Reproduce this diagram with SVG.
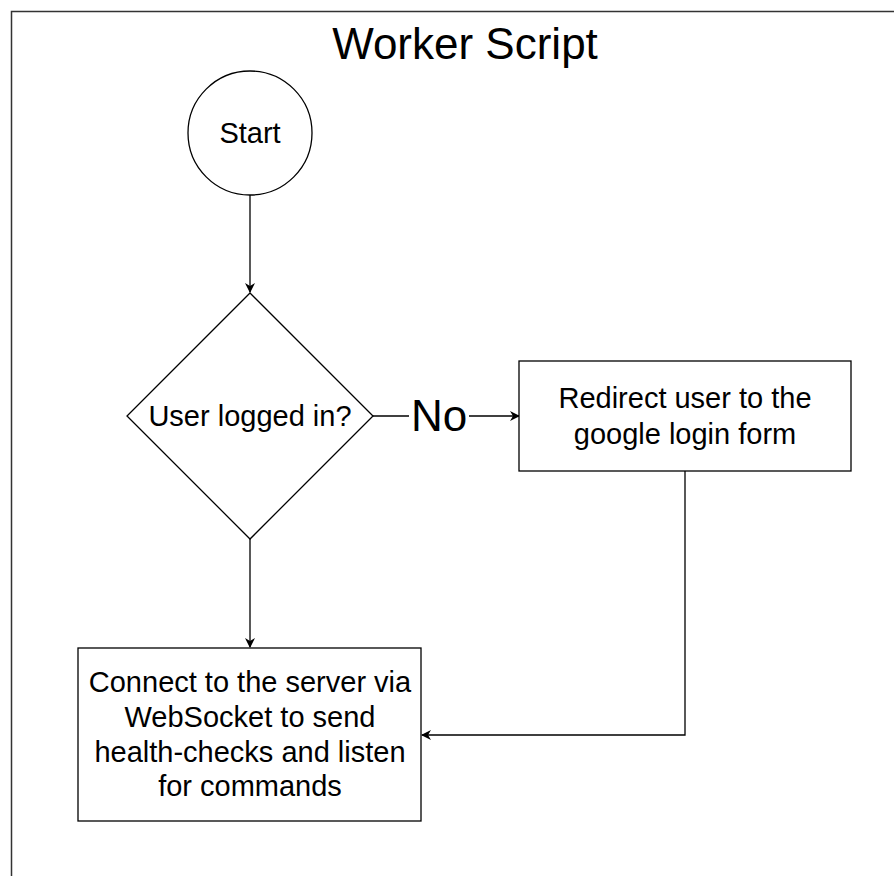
<svg xmlns="http://www.w3.org/2000/svg" width="894" height="876" viewBox="0 0 894 876">
  <style>
    .shape { fill: #ffffff; stroke: #000000; stroke-width: 1.3; }
    .edge { fill: none; stroke: #000000; stroke-width: 1.3; }
    .label { font-family: "Liberation Sans", Arial, sans-serif; font-size: 29px; fill: #000000; text-anchor: middle; }
    .title { font-family: "Liberation Sans", Arial, sans-serif; font-size: 44px; fill: #000000; text-anchor: middle; }
  </style>
  <defs>
    <marker id="arrow" viewBox="0 0 10 10" refX="9" refY="5" markerWidth="10" markerHeight="10" markerUnits="userSpaceOnUse" orient="auto">
      <path d="M0,0 L10,5 L0,10 L3,5 Z" fill="#000000"/>
    </marker>
  </defs>

  <rect width="894" height="876" fill="#ffffff"/>

  <!-- swimlane frame -->
  <g id="frame">
    <path d="M11.5,876 L11.5,11.5 L894,11.5" fill="none" stroke="#333333" stroke-width="1.5"/>
    <text class="title" x="465" y="59">Worker Script</text>
  </g>

  <!-- connectors -->
  <g id="connectors">
    <line class="edge" x1="250" y1="195" x2="250" y2="292" marker-end="url(#arrow)"/>
    <line class="edge" x1="373" y1="416" x2="409" y2="416"/>
    <line class="edge" x1="469" y1="416" x2="519" y2="416" marker-end="url(#arrow)"/>
    <text x="439" y="431" font-family="'Liberation Sans', Arial, sans-serif" font-size="44" text-anchor="middle" fill="#000000">No</text>
    <line class="edge" x1="250" y1="539" x2="250" y2="647" marker-end="url(#arrow)"/>
    <path class="edge" d="M685,471 L685,735 L422,735" marker-end="url(#arrow)"/>
  </g>

  <g id="start">
    <circle class="shape" cx="250" cy="133" r="62"/>
    <text class="label" x="250" y="143">Start</text>
  </g>

  <g id="logged-in">
    <polygon class="shape" points="250,293 373,416 250,539 127,416"/>
    <text class="label" x="250" y="426">User logged in?</text>
  </g>

  <g id="redirect">
    <rect class="shape" x="519" y="361" width="332" height="110"/>
    <text class="label" x="685" y="408">Redirect user to the</text>
    <text class="label" x="685" y="444">google login form</text>
  </g>

  <g id="connect">
    <rect class="shape" x="78" y="648" width="343" height="173"/>
    <text class="label" x="250" y="692">Connect to the server via</text>
    <text class="label" x="250" y="727">WebSocket to send</text>
    <text class="label" x="250" y="762">health-checks and listen</text>
    <text class="label" x="250" y="796">for commands</text>
  </g>
</svg>
